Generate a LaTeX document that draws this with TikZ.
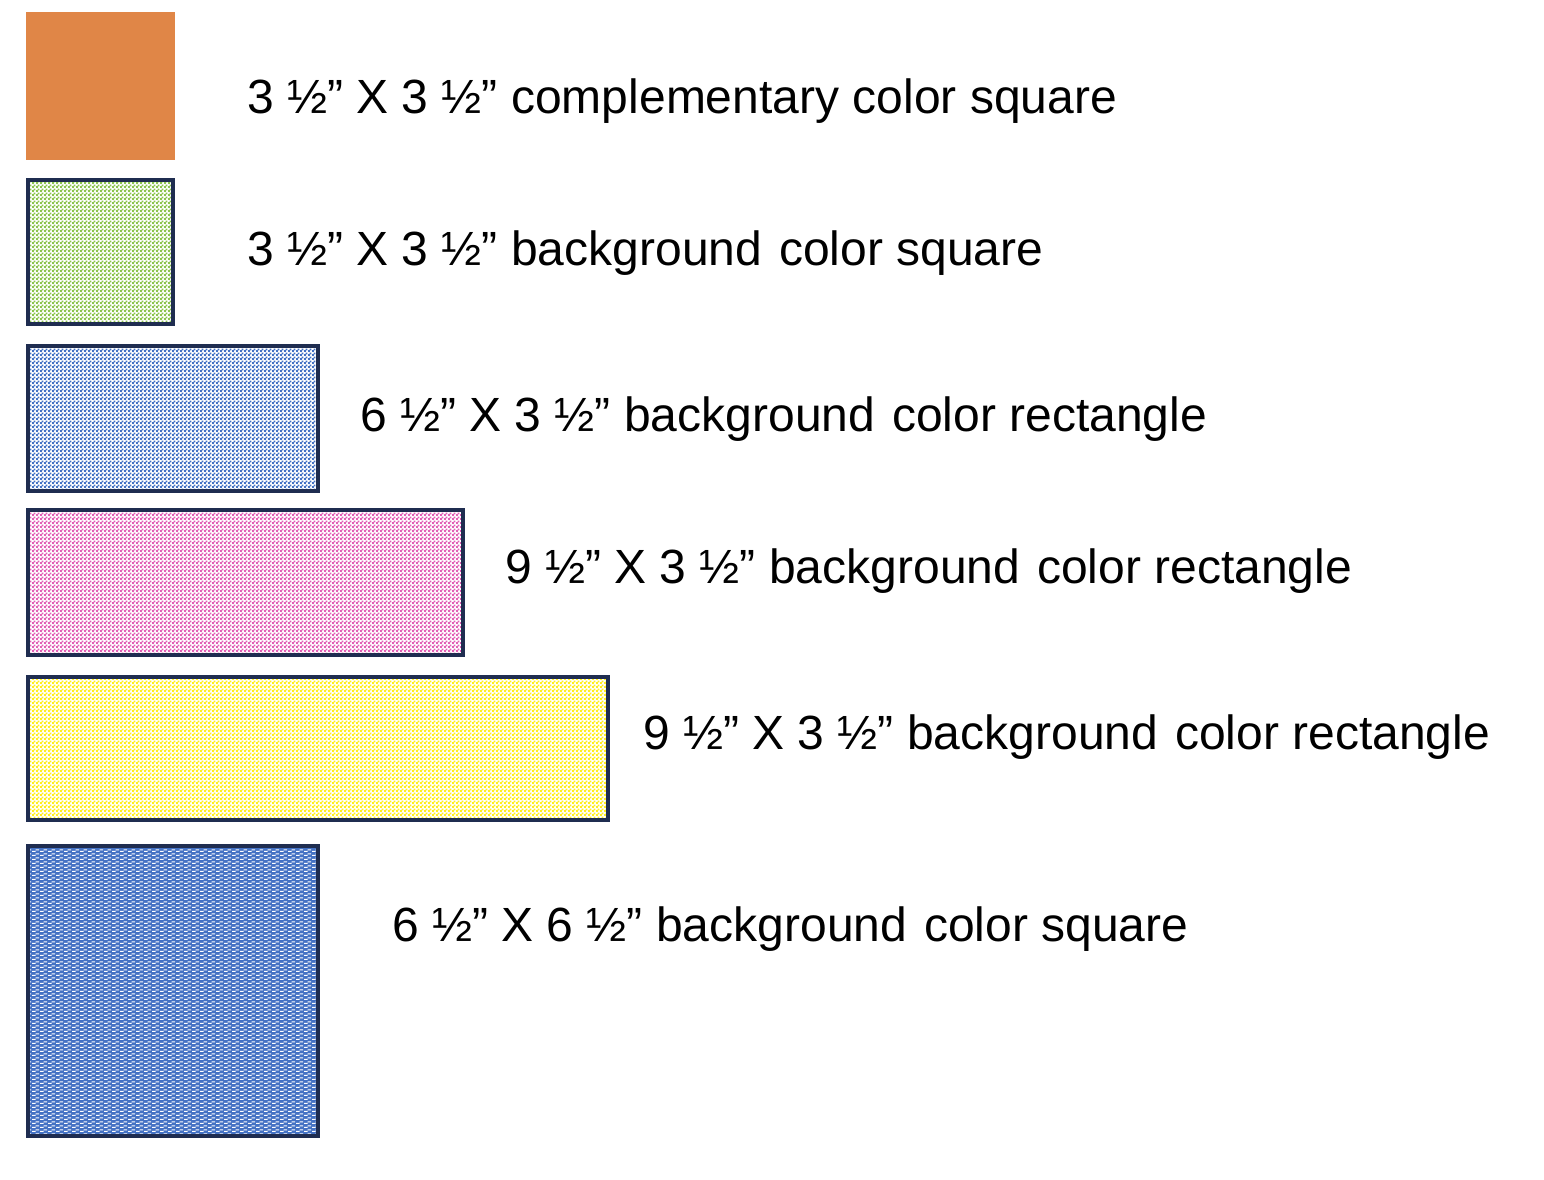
\documentclass[tikz,border=0pt]{standalone}
\usepackage{fontspec}
\setmainfont{Liberation Sans}
\usetikzlibrary{patterns.meta}

\definecolor{frame}{RGB}{31,45,80}
\definecolor{orangefill}{RGB}{224,134,71}
\definecolor{greendot}{RGB}{140,196,78}
\definecolor{bluedot}{RGB}{68,114,196}
\definecolor{pinkdot}{RGB}{226,96,182}
\definecolor{yellowdot}{RGB}{255,238,30}

\tikzdeclarepattern{name=fabricdots, type=uncolored,
  bounding box={(0pt,0pt) and (4pt,4pt)}, tile size={(4pt,4pt)},
  code={\pgfpathrectangle{\pgfpoint{0pt}{0pt}}{\pgfpoint{2.3pt}{2.3pt}}
        \pgfpathrectangle{\pgfpoint{2pt}{2pt}}{\pgfpoint{2.3pt}{2.3pt}}
        \pgfusepath{fill}}}
\tikzdeclarepattern{name=fabricdash, type=uncolored,
  bounding box={(0pt,0pt) and (8pt,4pt)}, tile size={(8pt,4pt)},
  code={\pgfpathrectangle{\pgfpoint{0pt}{0pt}}{\pgfpoint{4pt}{1.3pt}}
        \pgfpathrectangle{\pgfpoint{4pt}{2pt}}{\pgfpoint{4pt}{1.3pt}}
        \pgfusepath{fill}}}

\tikzset{
  piece/.style={draw=frame, line width=4pt, fill=white},
  sizelabel/.style={anchor=west, inner sep=0pt, font=\fontsize{48}{55}\selectfont}
}
\newcommand{\gap}{\ \hspace{0.08em}}

\begin{document}
\begin{tikzpicture}[x=1pt, y=-1pt]
    \useasboundingbox (0, 0) rectangle (1544, 1180);

    \fill[orangefill] (26, 12) rectangle (175, 160);
    \draw[piece, postaction={pattern={fabricdots}, pattern color=greendot}] (28, 180) rectangle (173, 324);
    \draw[piece, postaction={pattern={fabricdots}, pattern color=bluedot}] (28, 346) rectangle (318, 491);
    \draw[piece, postaction={pattern={fabricdots}, pattern color=pinkdot}] (28, 510) rectangle (463, 655);
    \draw[piece, postaction={pattern={fabricdots}, pattern color=yellowdot}] (28, 677) rectangle (608, 820);
    \draw[piece, fill=bluedot, postaction={pattern={fabricdash}, pattern color=white}] (28, 846) rectangle (318, 1136);
    \draw[draw=frame, line width=4pt] (28, 180) rectangle (173, 324);
    \draw[draw=frame, line width=4pt] (28, 346) rectangle (318, 491);
    \draw[draw=frame, line width=4pt] (28, 510) rectangle (463, 655);
    \draw[draw=frame, line width=4pt] (28, 677) rectangle (608, 820);
    \draw[draw=frame, line width=4pt] (28, 846) rectangle (318, 1136);

    \node[sizelabel] (comp) at (247, 101) {3 ½” X 3 ½” complementary color square};
    \node[sizelabel] (bgsq) at (247, 253) {3 ½” X 3 ½” background\gap color square};
    \node[sizelabel] (rectsix) at (360, 419) {6 ½” X 3 ½” background\gap color rectangle};
    \node[sizelabel] (rectnine) at (505, 571) {9 ½” X 3 ½” background\gap color rectangle};
    \node[sizelabel] (rectnineb) at (643, 737) {9 ½” X 3 ½” background\gap color rectangle};
    \node[sizelabel] (bigsq) at (392, 929) {6 ½” X 6 ½” background\gap color square};
\end{tikzpicture}
\end{document}
